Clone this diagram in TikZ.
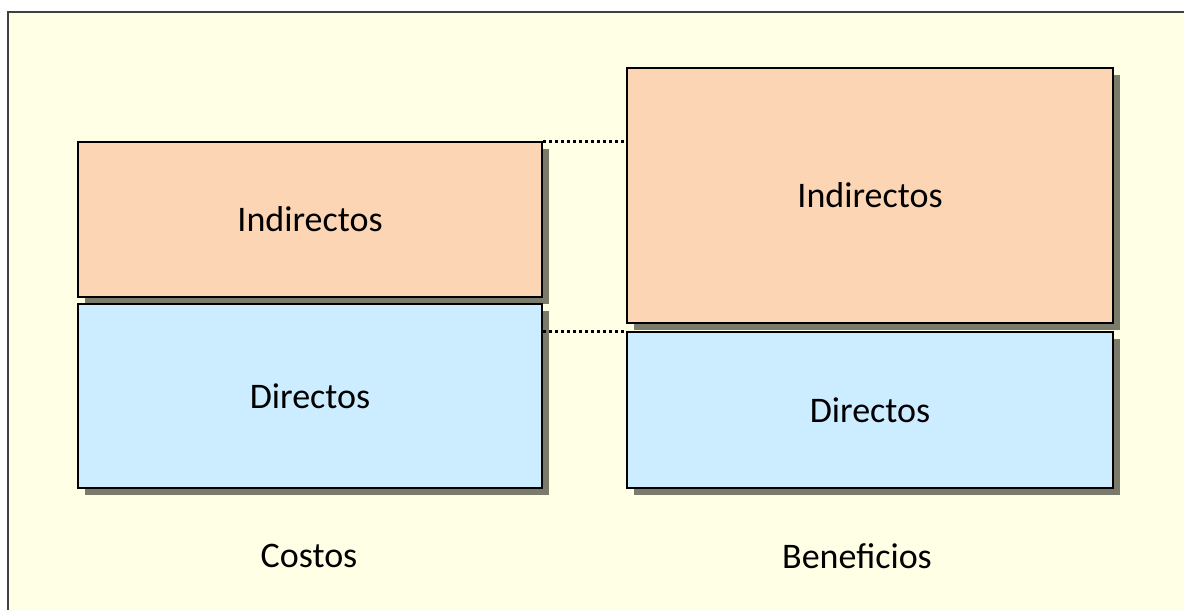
\documentclass[tikz,border=0pt]{standalone}
\usepackage{fontspec}
\setmainfont{Carlito}
\usetikzlibrary{shadows}
\definecolor{paper}{HTML}{FFFFE6}
\definecolor{peach}{HTML}{FCD5B4}
\definecolor{sky}{HTML}{CCECFF}
\definecolor{shade}{HTML}{7B7B6C}
\tikzstyle{part box}=[
        draw = black,
        line width = 2pt,
        anchor = north west,
        inner sep = 0pt,
        font = \fontsize{36}{43}\selectfont,
        drop shadow = {shadow xshift = 7pt, shadow yshift = -7pt, fill = shade, opacity = 1}
    ]
\tikzstyle{side label}=[
    font = \fontsize{36}{43}\selectfont,
    inner sep = 0pt
]
\tikzstyle{guide line}=[
    draw = black,
    line width = 3pt,
    dash pattern = on 3pt off 3pt
]

\begin{document}
\begin{tikzpicture}[x=1pt, y=-1pt]
        \useasboundingbox (0,0) rectangle (1184,610);
        \fill[paper] (8,12) rectangle (1190,616);
        \draw[black!75, line width = 2pt] (8,616) -- (8,12) -- (1190,12);

        % costos
        \node[part box, fill = peach, minimum width = 464pt, minimum height = 155pt] (ci) at (77,141) {Indirectos};
        \node[part box, fill = sky, minimum width = 464pt, minimum height = 184pt] (cd) at (77,303) {Directos};
        % beneficios
        \node[part box, fill = peach, minimum width = 486pt, minimum height = 255pt] (bi) at (626,67) {Indirectos};
        \node[part box, fill = sky, minimum width = 486pt, minimum height = 156pt] (bd) at (626,331) {Directos};

        \path[guide line] (ci.north east) -- (ci.north east -| bi.west);
        \path[guide line] (bd.north west -| cd.east) -- (bd.north west);

        \node[side label] (costos) at (309,556) {Costos};
        \node[side label] (beneficios) at (857,556) {Beneficios};

    \end{tikzpicture}
\end{document}
